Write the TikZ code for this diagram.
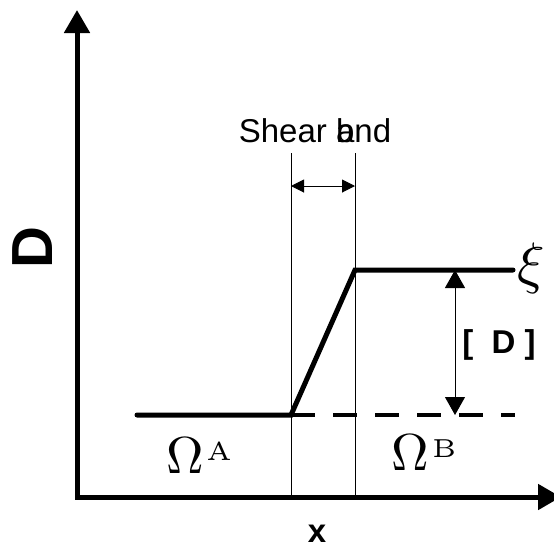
\documentclass[tikz,border=0pt]{standalone}
\usepackage{fontspec}
\newfontfamily\arial{Liberation Sans}
\usetikzlibrary{positioning,arrows.meta}

\begin{document}
\begin{tikzpicture}[x=1pt,y=-1pt,
  axis/.style={line width=5pt,{Triangle[length=23pt,width=25pt]}-{Triangle[length=23pt,width=25pt]}},
  curve/.style={line width=5pt,line cap=round},
  guide/.style={line width=0.8pt},
  gap/.style={line width=1pt,{Triangle[length=18pt,width=20pt]}-{Triangle[length=18pt,width=20pt]}},
  band/.style={line width=1pt,{Triangle[length=13pt,width=13pt]}-{Triangle[length=13pt,width=13pt]}},
  lbl/.style={font=\arial\fontsize{33}{36}\selectfont},
  bold/.style={font=\arial\bfseries\fontsize{33}{36}\selectfont},
  sym/.style={scale=5.2,anchor=base,inner sep=0pt}]
\clip (0,0) rectangle (554,550);
% axes
\coordinate (ytop) at (77,10);
\coordinate (o) at (77,497);
\coordinate (xend) at (561,497);
\draw[axis] (ytop) -- (o) -- (xend);
% shear band limits
\coordinate (l1) at (291,153); \coordinate (l1b) at (291,497);
\coordinate (r1) at (355,153); \coordinate (r1b) at (355,497);
\draw[guide] (l1) -- (l1b); \draw[guide] (r1) -- (r1b);
\coordinate (bl) at (291,186); \coordinate (br) at (355,186);
\draw[band] (bl) -- (br);
% displacement
\coordinate (a0) at (137,415); \coordinate (a1) at (291,415);
\coordinate (b1) at (355,270); \coordinate (b0) at (513,270);
\coordinate (d0) at (515,415);
\draw[curve] (a0) -- (a1) -- (b1) -- (b0);
\draw[line width=4pt,dash pattern=on 24pt off 18pt] (a1) -- (d0);
\coordinate (jt) at (455,270); \coordinate (jb) at (455,415);
\draw[gap] (jt) -- (jb);
% labels
\node[lbl,anchor=base] (bandlbl) at (315,142) {Shear b\llap{a}nd};
\node[rotate=90,inner sep=0pt,font=\arial\bfseries\fontsize{58}{60}\selectfont] (ylbl) at (33,248) {D};
\node[bold,inner sep=0pt] (xlbl) at (317,534) {x};
\node[bold] (jump) at (499,345) {[\ \ D\ ]};
\node[scale=5.7] (xi) at (531,268) {$\xi$};
\node[sym] (oma) at (199,473) {$\Omega\mkern1mu\raisebox{2.5pt}{$\scriptscriptstyle\mathrm{A}$}$};
\node[sym] (omb) at (424,470) {$\Omega\mkern1mu\raisebox{2.5pt}{$\scriptscriptstyle\mathrm{B}$}$};
\end{tikzpicture}
\end{document}
